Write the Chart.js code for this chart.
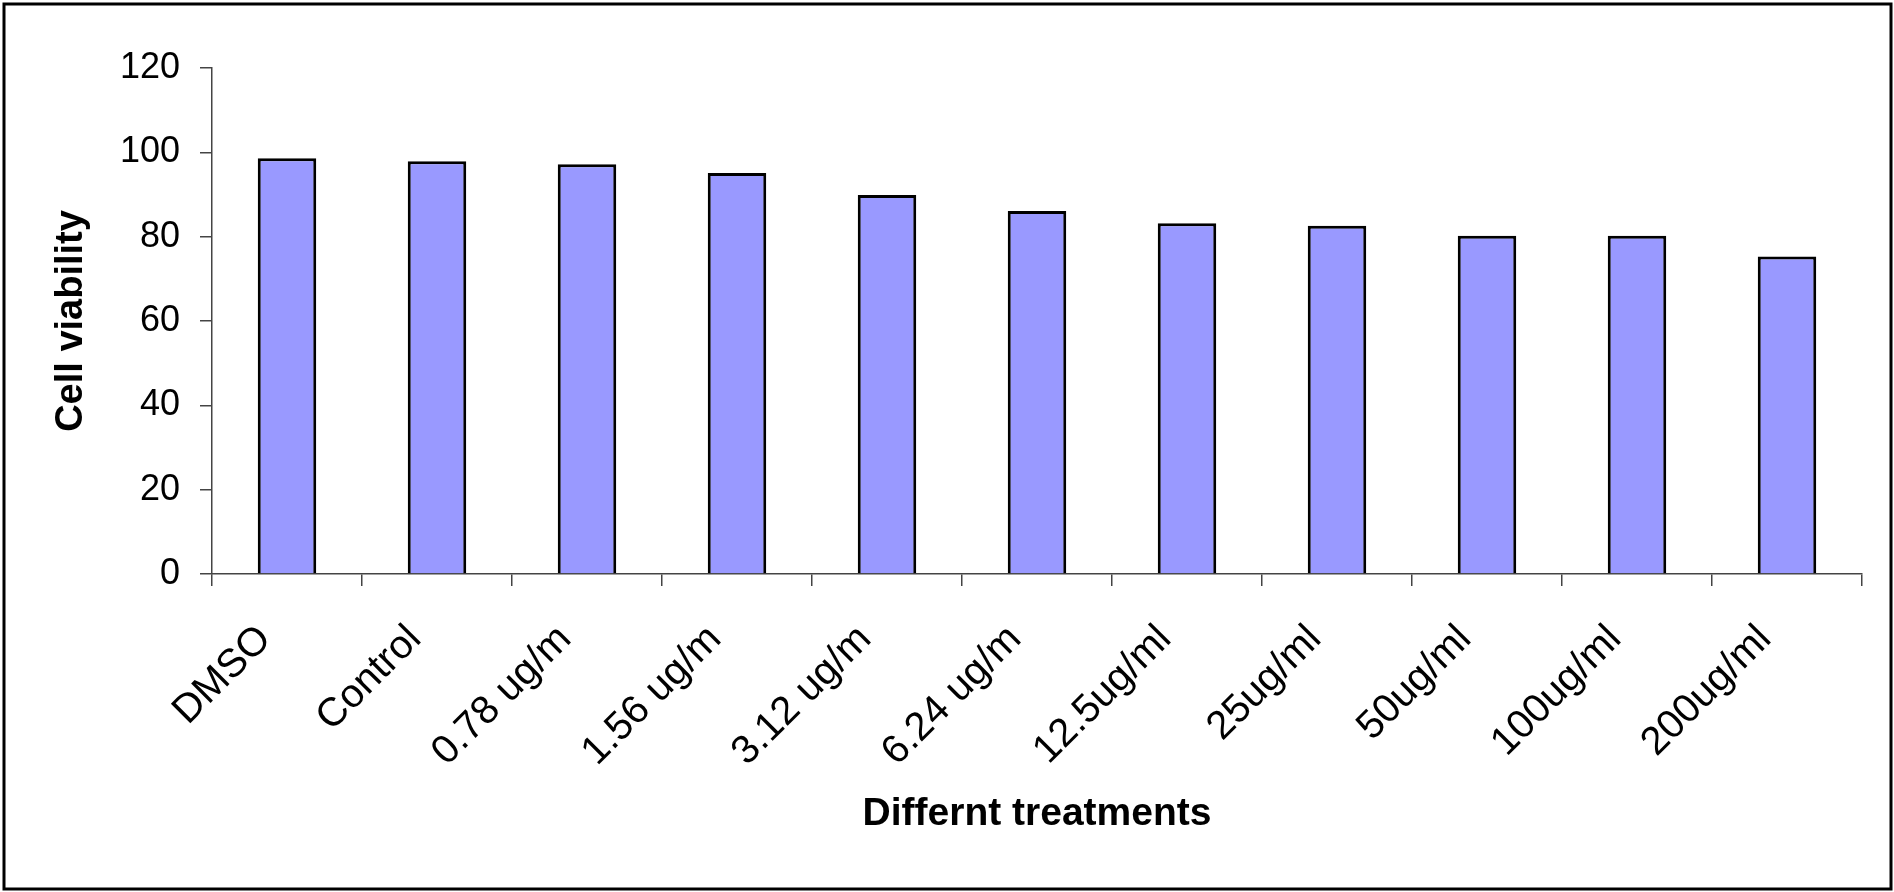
<!DOCTYPE html>
<html>
<head>
<meta charset="utf-8">
<script src="https://cdn.jsdelivr.net/npm/chart.js@4"></script>
<style>
  html, body { margin: 0; padding: 0; background: #fff; }
  canvas { display: block; }
</style>
</head>
<body>
<canvas id="viabilityChart" width="1894" height="892"></canvas>
<script>
// data
var treatments = ["DMSO", "Control", "0.78 ug/m", "1.56 ug/m", "3.12 ug/m", "6.24 ug/m",
                  "12.5ug/ml", "25ug/ml", "50ug/ml", "100ug/ml", "200ug/ml"];
var viability = [98.6, 97.9, 97.2, 95.1, 89.9, 86.1, 83.2, 82.6, 80.2, 80.2, 75.3];
var yTicks = [0, 20, 40, 60, 80, 100, 120];

var fontFamily = "'Liberation Sans', Arial, sans-serif";

// outer frame round the whole picture
var framePlugin = {
    id: "frame",
    beforeDraw: function (chart) {
        var ctx = chart.ctx;
        ctx.save();
        ctx.fillStyle = "#fff";
        ctx.fillRect(0, 0, chart.width, chart.height);
        ctx.strokeStyle = "#000";
        ctx.lineWidth = 3;
        ctx.strokeRect(4, 4, chart.width - 7, chart.height - 7);
        ctx.restore();
    }
};

document.addEventListener("DOMContentLoaded", function () {
    var ctx = document.getElementById("viabilityChart");
    new Chart(ctx, {
        type: "bar",
        data: {
            labels: treatments,
            datasets: [{
                data: viability,
                backgroundColor: "#9999ff",
                borderColor: "#000",
                borderWidth: 3,
                borderSkipped: "bottom",
                categoryPercentage: 1.0,
                barPercentage: 0.39
            }]
        },
        options: {
            responsive: false,
            animation: false,
            layout: { padding: { top: 68, right: 32, bottom: 50, left: 45 } },
            plugins: {
                legend: { display: false },
                tooltip: { enabled: false }
            },
            scales: {
                x: {
                    offset: true,
                    afterFit: function (scale) { scale.height = 268; },
                    grid: {
                        offset: true,
                        drawOnChartArea: false,
                        drawTicks: true,
                        tickLength: 12,
                        color: "#444",
                        lineWidth: 1.5
                    },
                    border: { display: true, color: "#444", width: 1.5 },
                    ticks: {
                        color: "#000",
                        minRotation: 45,
                        maxRotation: 45,
                        autoSkip: false,
                        padding: 30,
                        labelOffset: -22,
                        font: { family: fontFamily, size: 40 }
                    },
                    title: {
                        display: true,
                        text: "Differnt treatments",
                        color: "#000",
                        font: { family: fontFamily, size: 39, weight: "bold" }
                    }
                },
                y: {
                    min: 0,
                    max: 120,
                    afterFit: function (scale) { scale.width = 167; },
                    afterBuildTicks: function (scale) {
                        scale.ticks = yTicks.map(function (v) { return { value: v }; });
                    },
                    grid: {
                        drawOnChartArea: false,
                        drawTicks: true,
                        tickLength: 12,
                        color: "#444",
                        lineWidth: 1.5
                    },
                    border: { display: true, color: "#444", width: 1.5 },
                    ticks: {
                        color: "#000",
                        padding: 20,
                        font: { family: fontFamily, size: 36 }
                    },
                    title: {
                        display: true,
                        text: "Cell viability",
                        color: "#000",
                        font: { family: fontFamily, size: 38, weight: "bold" }
                    }
                }
            }
        },
        plugins: [framePlugin]
    });
});
</script>
</body>
</html>
